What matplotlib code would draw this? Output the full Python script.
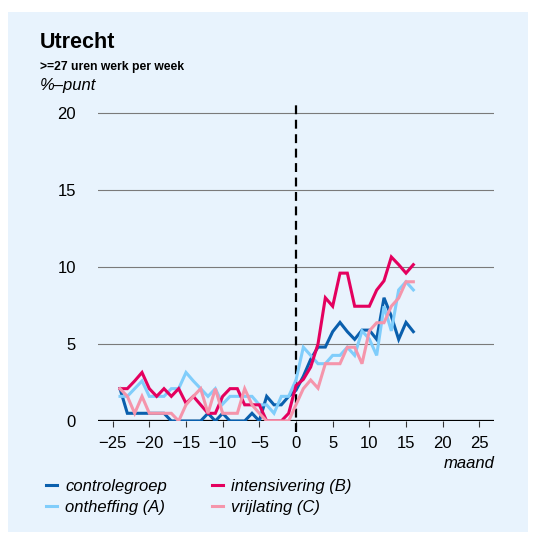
import matplotlib
matplotlib.use("Agg")
import matplotlib.pyplot as plt
from matplotlib.patches import Rectangle

plt.rcParams["font.family"] = ["Liberation Sans", "DejaVu Sans"]

# maanden t.o.v. start experiment
maand = list(range(-24, 17))

controlegroep = [2.1, 0.5, 0.5, 0.5, 0.5, 0.5, 0.5, 0.0, 0.0, 0.0, 0.0, 0.0, 0.5, 0.0,
                 0.5, 0.0, 0.0, 0.0, 0.5, 0.0, 1.6, 1.05, 1.05, 1.6, 2.0, 2.9, 4.0, 4.8,
                 4.8, 5.8, 6.4, 5.8, 5.3, 5.9, 5.9, 5.3, 8.0, 6.8, 5.3, 6.4, 5.8]
ontheffing = [1.6, 1.6, 2.1, 2.6, 1.6, 1.6, 1.6, 2.1, 2.1, 3.15, 2.6, 2.1, 1.6, 2.1,
              1.1, 1.6, 1.6, 1.6, 1.6, 1.05, 1.05, 0.5, 1.6, 1.6, 2.66, 4.79, 4.26, 3.72,
              3.72, 4.26, 4.26, 4.79, 4.26, 5.85, 5.32, 4.26, 7.45, 5.85, 8.51, 9.04, 8.51]
intensivering = [2.1, 2.1, 2.6, 3.15, 2.1, 1.6, 2.1, 1.6, 2.1, 1.15, 1.6, 1.05, 0.5, 0.5,
                 1.6, 2.1, 2.1, 1.05, 1.05, 1.05, 0.0, 0.0, 0.0, 0.5, 2.3, 2.7, 3.5, 5.0,
                 8.0, 7.45, 9.6, 9.6, 7.45, 7.45, 7.45, 8.5, 9.1, 10.65, 10.15, 9.6, 10.15]
vrijlating = [2.1, 1.6, 0.5, 1.6, 0.5, 0.5, 0.5, 0.5, 0.0, 1.05, 1.6, 2.1, 0.5, 2.1,
              0.5, 0.5, 0.5, 2.1, 1.05, 0.5, 0.0, 0.0, 0.0, 0.0, 1.06, 2.1, 2.66, 2.13,
              3.72, 3.72, 3.72, 4.79, 4.79, 3.72, 5.85, 6.38, 6.38, 7.45, 7.98, 9.04, 9.04]

series = [
    ("controlegroep", controlegroep, "#0a5fad"),
    ("ontheffing (A)", ontheffing, "#80cdfb"),
    ("intensivering (B)", intensivering, "#e4005e"),
    ("vrijlating (C)", vrijlating, "#f595ab"),
]

xticks = [-25, -20, -15, -10, -5, 0, 5, 10, 15, 20, 25]
yticks = [0, 5, 10, 15, 20]

W, H = 535, 533
fig = plt.figure(figsize=(W / 100, H / 100), dpi=100, facecolor="white")

def fx(px):
    return px / W

def fy(py):
    return 1 - py / H

# lichtblauw paneel
fig.add_artist(Rectangle((fx(8), fy(532)), fx(520), 520 / H, transform=fig.transFigure,
                         facecolor="#e8f3fd", edgecolor="none", zorder=-10))

ax = fig.add_axes([fx(98), fy(421), fx(396), 321 / H])
ax.set_facecolor("none")
ax.set_zorder(1)

for y in yticks[1:]:
    ax.axhline(y, color="#7a7a7a", lw=0.8, zorder=1)
ax.axhline(0, color="black", lw=1.6, zorder=1)
ax.axvline(0, ymin=-0.035, ymax=1, color="black", lw=1.6, ls=(0, (4, 2.5)),
           clip_on=False, zorder=2)

handles = []
for name, vals, col in series:
    h, = ax.plot(maand, vals, color=col, lw=2.2, label=name, zorder=3,
                 solid_joinstyle="miter")
    handles.append(h)

ax.set_xlim(-27, 27)
ax.set_ylim(0, 20.84)
ax.set_xticks(xticks)
ax.set_yticks(yticks)
ax.tick_params(axis="x", length=4, width=0.8, color="#333333", labelsize=12, pad=7)
ax.tick_params(axis="y", length=0, labelsize=12, pad=16)
for s in ax.spines.values():
    s.set_visible(False)

fig.text(fx(40), fy(48), "Utrecht", fontsize=15.5, fontweight="bold")
fig.text(fx(40), fy(70), ">=27 uren werk per week", fontsize=8.7, fontweight="bold")
fig.text(fx(40), fy(90), "%\u2013punt", fontsize=12, style="italic")
fig.text(fx(495), fy(468), "maand", fontsize=12, style="italic", ha="right")

fig.legend(handles=handles, loc="upper left", bbox_to_anchor=(fx(46), fy(479)),
           ncol=2, frameon=False, handlelength=0.65, handletextpad=0.5,
           columnspacing=2.7, labelspacing=0.35, borderaxespad=0, borderpad=0,
           prop={"style": "italic", "size": 12})

fig.savefig("out.png", dpi=100, facecolor="white")
